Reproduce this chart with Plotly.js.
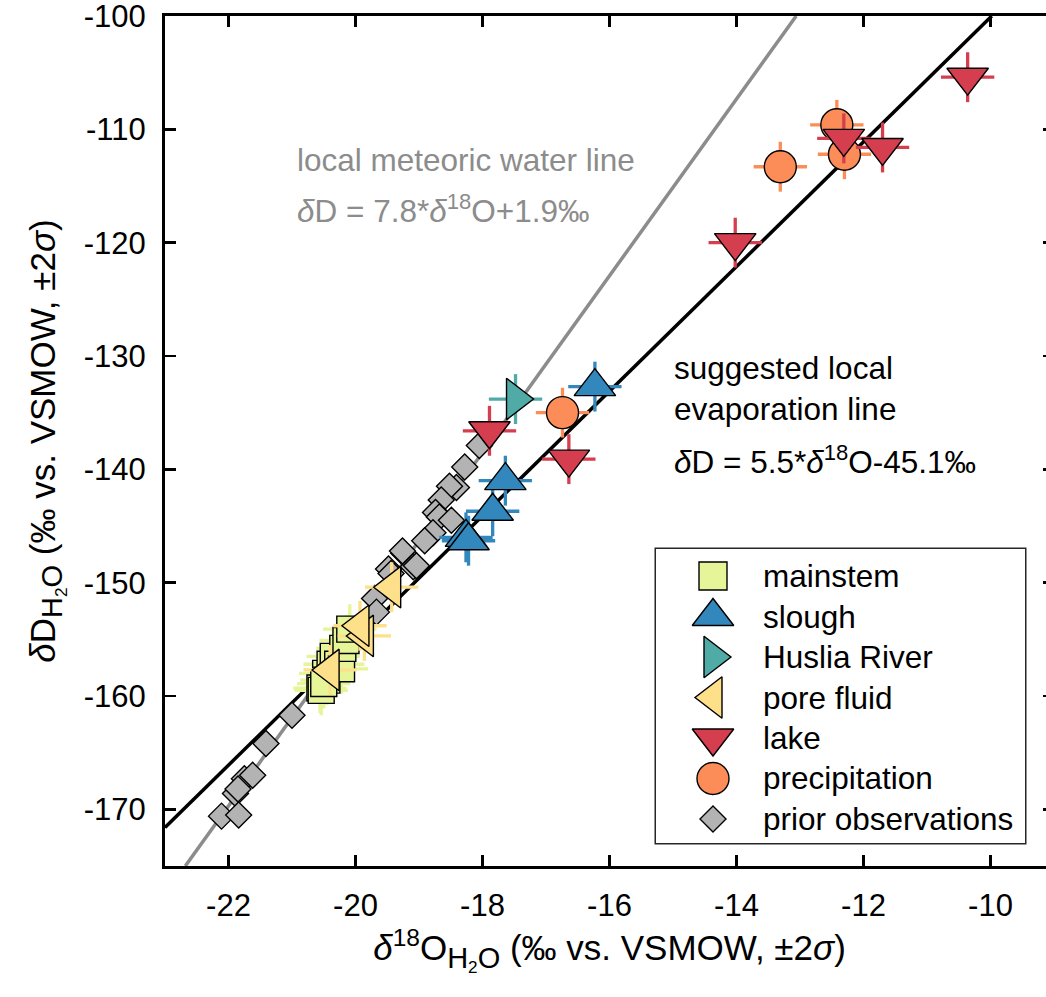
<!DOCTYPE html>
<html>
<head>
<meta charset="utf-8">
<script src="https://cdn.plot.ly/plotly-3.0.1.min.js"></script>
<style>
html,body{margin:0;padding:0;overflow:hidden;background:#fff;}
#chart{width:1060px;height:997px;}
</style>
</head>
<body>
<div id="chart"></div>
<script>
// ---------- data ----------
const mainstemX = [-20.56, -20.54, -20.47, -20.45, -20.40, -20.35, -20.28, -20.22, -20.20, -20.15, -20.09, -20.50];
const mainstemY = [-159.3, -159.5, -158.0, -158.6, -157.2, -156.5, -157.2, -157.6, -155.8, -155.1, -154.1, -158.9];

const sloughX = [-16.23, -17.64, -17.84, -18.26, -18.22];
const sloughY = [-132.7, -141.0, -143.7, -146.0, -146.3];

const husliaX = [-17.48];
const husliaY = [-133.8];

const poreX = [-19.43, -19.86, -19.93, -20.40];
const poreY = [-150.4, -154.7, -153.8, -157.7];

const lakeX = [-17.89, -16.64, -14.02, -12.31, -11.70, -10.36];
const lakeY = [-136.6, -139.1, -120.0, -110.8, -111.6, -105.4];

const precipX = [-16.74, -13.31, -12.42, -12.30];
const precipY = [-135.0, -113.3, -109.6, -112.2];

const priorX = [-21.00, -21.41, -21.75, -21.62, -21.89, -21.85, -22.11, -21.84,
                -18.05, -18.28, -18.41, -18.52, -18.65, -18.74, -18.68, -18.49,
                -18.78, -18.91, -19.24, -19.09, -19.48, -19.44, -19.26, -19.04,
                -19.70, -19.67];
const priorY = [-161.7, -164.2, -167.3, -167.0, -168.6, -168.2, -170.6, -170.5,
                -137.9, -139.8, -141.6, -141.5, -142.7, -143.8, -144.2, -144.5,
                -145.6, -146.3, -147.4, -148.6, -148.8, -149.2, -147.2, -148.5,
                -151.4, -152.6];

// ±2σ uncertainties
const sigmaX = 0.42;
const sigmaY = 2.2;

// regression lines (end points)
const lmwlX = [-22.68, -13.06];
const lmwlY = [-175, -100];
const evapX = [-23, -9.98];
const evapY = [-171.6, -100];

// ticks
const xTickVals = [-22, -20, -18, -16, -14, -12, -10];
const xTickText = ['-22', '-20', '-18', '-16', '-14', '-12', '-10'];
const yTickVals = [-170, -160, -150, -140, -130, -120, -110, -100];
const yTickText = ['-170', '-160', '-150', '-140', '-130', '-120', '-110', '-100'];

// legend
const legendNames = ['mainstem', 'slough', 'Huslia River', 'pore fluid', 'lake', 'precipitation', 'prior observations'];

// ---------- styles ----------
const FONT = 'Liberation Sans, Arial, Helvetica, sans-serif';
const C = {
  mainstem: '#e6f598',
  slough: '#3288bd',
  huslia: '#50aba6',
  pore: '#fee08b',
  lake: '#d53e4f',
  precip: '#fc8d59',
  prior: '#b3b3b3'
};
const SYM = ['square', 'triangle-up', 'triangle-right', 'triangle-left', 'triangle-down', 'circle', 'diamond'];
const SIZE = [26, 36, 36, 36, 36, 32, 20];
const COLS = [C.mainstem, C.slough, C.huslia, C.pore, C.lake, C.precip, C.prior];

function errs(col) {
  return {
    error_x: {type: 'constant', value: sigmaX, thickness: 3.3, width: 0, color: col},
    error_y: {type: 'constant', value: sigmaY, thickness: 3.3, width: 0, color: col}
  };
}
function pts(x, y, i, withErr) {
  const t = {
    type: 'scatter', mode: 'markers', x: x, y: y, name: legendNames[i],
    marker: {symbol: SYM[i], size: SIZE[i], color: COLS[i], opacity: 1, line: {color: '#000', width: 1.4}},
    hoverinfo: 'x+y+name'
  };
  if (withErr) Object.assign(t, errs(COLS[i]));
  return t;
}

const traces = [
  {type: 'scatter', mode: 'lines', x: lmwlX, y: lmwlY, line: {color: '#8c8c8c', width: 3.5}, hoverinfo: 'skip'},
  {type: 'scatter', mode: 'lines', x: evapX, y: evapY, line: {color: '#000', width: 3.5}, hoverinfo: 'skip'},
  pts(priorX, priorY, 6, false),
  pts(mainstemX, mainstemY, 0, true),
  pts(sloughX, sloughY, 1, true),
  pts(husliaX, husliaY, 2, true),
  pts(poreX, poreY, 3, true),
  pts(precipX, precipY, 5, true),
  pts(lakeX, lakeY, 4, true),
  // custom legend symbols
  {
    type: 'scatter', mode: 'markers', xaxis: 'x2', yaxis: 'y2',
    x: legendNames.map(() => 57), y: legendNames.map((_, i) => i),
    marker: {symbol: SYM, size: SIZE.map((s, i) => i === 0 ? 28 : s), color: COLS, opacity: 1, line: {color: '#000', width: 1.4}},
    hoverinfo: 'skip'
  }
];

// geometry of plot area in px
const PL = 165, PR = 1054, PT = 16, PB = 866;
const PW = PR - PL, PH = PB - PT;
const px2paperX = p => (p - PL) / PW;
const px2paperY = p => 1 - (p - PT) / PH;

const legendAnn = legendNames.map((n, i) => ({
  xref: 'x2', yref: 'y2', x: 105, y: i, text: n, showarrow: false,
  xanchor: 'left', yanchor: 'middle', font: {family: FONT, size: 31.5, color: '#000'}
}));

const txtAnn = [
  {text: 'local meteoric water line', x: -20.96, y: -112.7, color: '#8c8c8c'},
  {text: '<i>δ</i>D = 7.8*<i>δ</i><sup>18</sup>O+1.9‰', x: -20.96, y: -117.0, color: '#8c8c8c'},
  {text: 'suggested local', x: -15.02, y: -131.1, color: '#000'},
  {text: 'evaporation line', x: -15.02, y: -134.7, color: '#000'},
  {text: '<i>δ</i>D = 5.5*<i>δ</i><sup>18</sup>O-45.1‰', x: -15.02, y: -139.2, color: '#000'}
].map(a => ({
  xref: 'x', yref: 'y', x: a.x, y: a.y, text: a.text, showarrow: false,
  xanchor: 'left', yanchor: 'middle', font: {family: FONT, size: 31.5, color: a.color}
}));

const axisCommon = {
  showline: true, linewidth: 3, linecolor: '#000', mirror: 'ticks',
  ticks: 'inside', ticklen: 11, tickwidth: 2.5, tickcolor: '#000',
  showgrid: false, zeroline: false, tickmode: 'array',
  tickfont: {family: FONT, size: 31, color: '#000'},
  ticklabelstandoff: 10, ticklabeloverflow: 'allow', automargin: false
};

const SUB = t => '<span style="font-size:29px">' + t + '</span>';
const h2o = '<sub>' + SUB('H') + '<sub>2</sub>' + SUB('O') + '</sub>';

const layout = {
  width: 1060, height: 997,
  margin: {l: PL, r: 1060 - PR, t: PT, b: 997 - PB},
  paper_bgcolor: '#fff', plot_bgcolor: '#fff',
  showlegend: false,
  font: {family: FONT, size: 31, color: '#000'},
  xaxis: Object.assign({}, axisCommon, {
    range: [-23, -9], tickvals: xTickVals, ticktext: xTickText,
    title: {text: '<i>δ</i><sup>18</sup>O' + h2o + ' (‰ vs. VSMOW, ±2<i>σ</i>)', font: {family: FONT, size: 35, color: '#000'}, standoff: 14}
  }),
  yaxis: Object.assign({}, axisCommon, {
    range: [-175, -100], tickvals: yTickVals, ticktext: yTickText,
    title: {text: '<i>δ</i>D' + h2o + ' (‰ vs. VSMOW, ±2<i>σ</i>)', font: {family: FONT, size: 35, color: '#000'}, standoff: 18}
  }),
  xaxis2: {domain: [px2paperX(656), px2paperX(1025)], anchor: 'y2', range: [0, 369], visible: false, fixedrange: true},
  yaxis2: {domain: [px2paperY(843), px2paperY(549)], anchor: 'x2', range: [6.593, -0.667], visible: false, fixedrange: true},
  shapes: [{
    type: 'rect', xref: 'paper', yref: 'paper', layer: 'below',
    x0: px2paperX(656), x1: px2paperX(1025), y0: px2paperY(843), y1: px2paperY(549),
    line: {color: '#262626', width: 3}, fillcolor: '#fff'
  }],
  annotations: legendAnn.concat(txtAnn)
};

Plotly.newPlot('chart', traces, layout, {displayModeBar: false, staticPlot: true});
</script>
</body>
</html>
